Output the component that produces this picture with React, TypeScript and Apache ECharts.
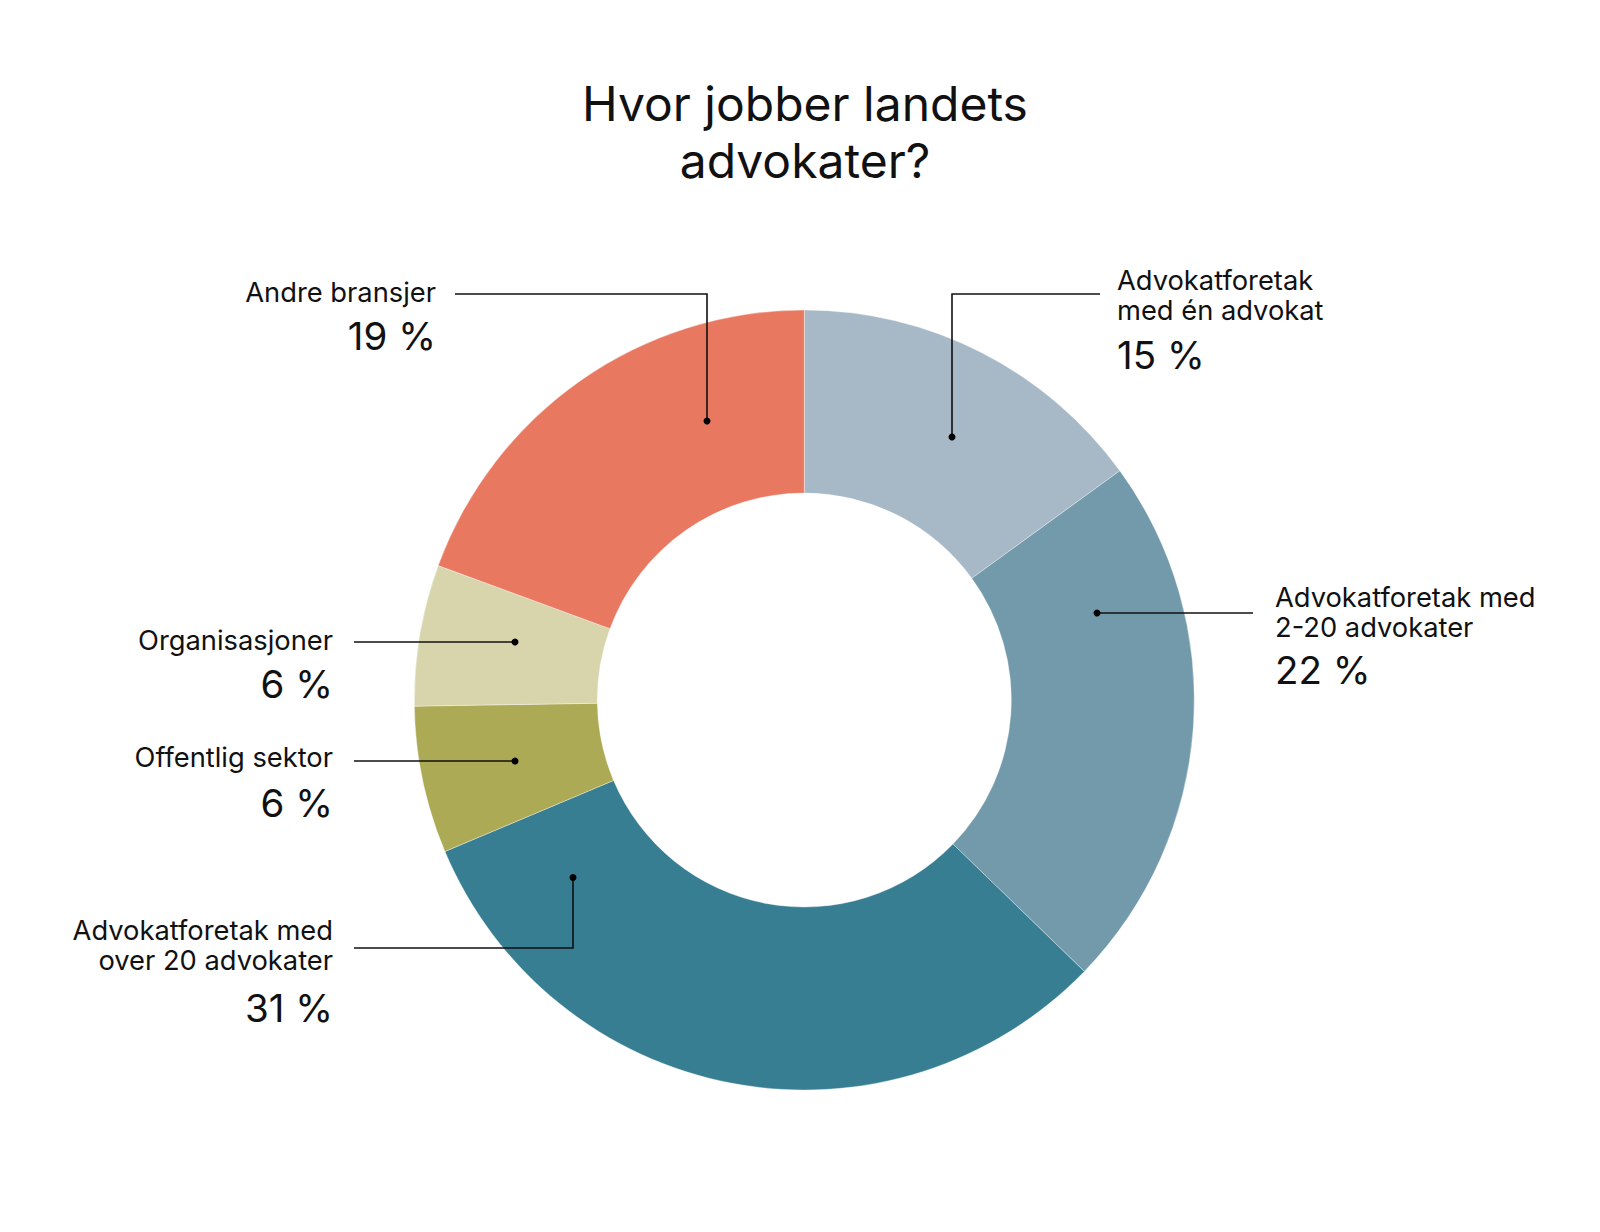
import React, { useEffect, useRef } from "react";
import * as echarts from "echarts";

// ---- data ----
const titleLines = ["Hvor jobber landets", "advokater?"];
const categories = [
  "Advokatforetak\nmed én advokat",
  "Advokatforetak med\n2-20 advokater",
  "Advokatforetak med\nover 20 advokater",
  "Offentlig sektor",
  "Organisasjoner",
  "Andre bransjer",
];
const shares = [15.0, 22.25, 31.4, 6.1, 5.85, 19.4];

// ---- styles / layout ----
const sliceColors = ["#A7B9C6", "#729AAB", "#377E93", "#ADAA56", "#D8D5AC", "#E97861"];
const FONT = "Inter, 'Noto Sans', sans-serif";
const CX = 804.3;
const CY = 700;
const NAME_FS = 27.3;
const NAME_LH = 30.5;
const PCT_FS = 38.5;

// annotation callouts (dot inside slice -> elbow -> label)
const callouts = [
  { pts: [[952, 437], [952, 294], [1100, 294]], tx: 1117, align: "left", base: 290, pctBase: 369 },
  { pts: [[1097, 613], [1253, 613]], tx: 1275, align: "left", base: 607, pctBase: 684 },
  { pts: [[573, 877.5], [573, 948], [354, 948]], tx: 333, align: "right", base: 940, pctBase: 1022 },
  { pts: [[515, 761], [354, 761]], tx: 333, align: "right", base: 767, pctBase: 817 },
  { pts: [[515, 642], [354, 642]], tx: 333, align: "right", base: 650, pctBase: 698 },
  { pts: [[707, 421], [707, 294], [455, 294]], tx: 436, align: "right", base: 302, pctBase: 350 },
];

function textEl(text: string, x: number, baseline: number, fs: number, align: string) {
  return {
    type: "text",
    silent: true,
    z: 100,
    style: {
      text,
      x,
      y: baseline - fs * 0.36,
      fill: "#111111",
      fontSize: fs,
      fontFamily: FONT,
      align,
      textAlign: align,
      verticalAlign: "middle",
      textVerticalAlign: "middle",
    },
  };
}

export default function App() {
  const ref = useRef<HTMLDivElement>(null);
  useEffect(() => {
    if (!ref.current) return;
    const chart = echarts.init(ref.current, undefined, { renderer: "svg" });

    const graphics: any[] = [];
    callouts.forEach((c, i) => {
      graphics.push({
        type: "polyline",
        silent: true,
        z: 100,
        shape: { points: c.pts },
        style: { stroke: "#111111", lineWidth: 1.6, fill: "none" },
      });
      graphics.push({
        type: "circle",
        silent: true,
        z: 101,
        shape: { cx: c.pts[0][0], cy: c.pts[0][1], r: 3.5 },
        style: { fill: "#000000" },
      });
      const lines = categories[i].split("\n");
      lines.forEach((ln, k) => {
        graphics.push(textEl(ln, c.tx, c.base + k * NAME_LH, NAME_FS, c.align));
      });
      graphics.push(textEl(Math.round(shares[i]) + " %", c.tx, c.pctBase, PCT_FS, c.align));
    });
    titleLines.forEach((t, k) => {
      graphics.push(textEl(t, 805, 121 + k * 57, 48, "center"));
    });

    chart.setOption({
      animation: false,
      backgroundColor: "#ffffff",
      graphic: { elements: graphics },
      series: [
        {
          type: "pie",
          z: 1,
          center: [CX, CY],
          radius: [207, 390],
          startAngle: 90,
          clockwise: true,
          silent: true,
          label: { show: false },
          labelLine: { show: false },
          itemStyle: { borderColor: "rgba(255,255,255,0.6)", borderWidth: 0.6 },
          data: categories.map((name, i) => ({
            name,
            value: shares[i],
            itemStyle: { color: sliceColors[i] },
          })),
        },
      ],
    });
    return () => chart.dispose();
  }, []);
  return (
    <div
      ref={ref}
      style={{ position: "absolute", left: 0, top: 0, width: 1600, height: 1232 }}
    />
  );
}
